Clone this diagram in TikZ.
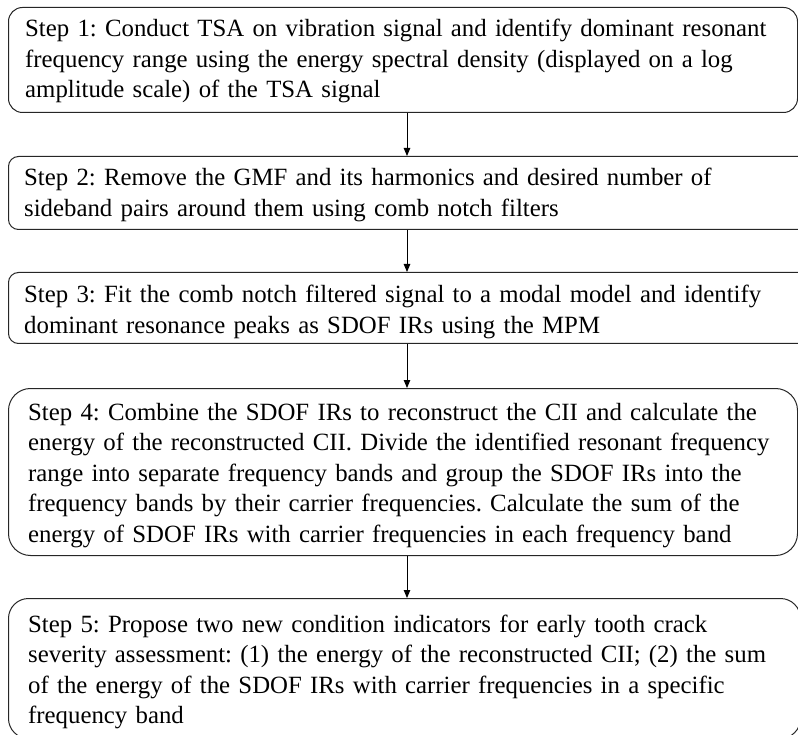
\documentclass[tikz,border=0pt]{standalone}
\usepackage{fontspec}
\setmainfont{Liberation Serif}
\usetikzlibrary{arrows.meta}
\frenchspacing
\begin{document}
\begin{tikzpicture}[x=1pt,y=-1pt,
  stepbox/.style={draw=black!85, line width=1pt, inner sep=0pt, anchor=north west},
  steptext/.style={anchor=base west, inner sep=0pt, align=left, text width=780pt, font=\fontsize{24.8}{30.5}\selectfont\frenchspacing},
  flow/.style={draw=black, line width=0.9pt, -{Triangle[width=6.5pt,length=8pt]}}]
\clip (0,0) rectangle (798,735);
\node[stepbox, rounded corners=14pt, minimum width=789pt, minimum height=105pt] (b1) at (8,7) {};
\node[stepbox, rounded corners=10pt, minimum width=800pt, minimum height=73pt] (b2) at (8,156) {};
\node[stepbox, rounded corners=10pt, minimum width=800pt, minimum height=71pt] (b3) at (8,272) {};
\node[stepbox, rounded corners=22pt, minimum width=789pt, minimum height=167pt] (b4) at (8,388) {};
\node[stepbox, rounded corners=20pt, minimum width=792pt, minimum height=140pt] (b5) at (8,598) {};
\node[steptext] (t1) at (25,37) {Step 1: Conduct TSA on vibration signal and identify dominant resonant\\frequency range using the energy spectral density (displayed on a log\\amplitude scale) of the TSA signal};
\node[steptext] (t2) at (24,186) {Step 2: Remove the GMF and its harmonics and desired number of\\sideband pairs around them using comb notch filters};
\node[steptext] (t3) at (24,303) {Step 3: Fit the comb notch filtered signal to a modal model and identify\\dominant resonance peaks as SDOF IRs using the MPM};
\node[steptext] (t4) at (28,420) {Step 4: Combine the SDOF IRs to reconstruct the CII and calculate the\\energy of the reconstructed CII. Divide the identified resonant frequency\\range into separate frequency bands and group the SDOF IRs into the\\frequency bands by their carrier frequencies. Calculate the sum of the\\energy of SDOF IRs with carrier frequencies in each frequency band};
\node[steptext] (t5) at (28,632) {Step 5: Propose two new condition indicators for early tooth crack\\severity assessment: (1) the energy of the reconstructed CII; (2) the sum\\of the energy of the SDOF IRs with carrier frequencies in a specific\\frequency band};
\coordinate (ax) at (407,0);
\draw[flow] (b1.south -| ax) -- (b2.north -| ax);
\draw[flow] (b2.south -| ax) -- (b3.north -| ax);
\draw[flow] (b3.south -| ax) -- (b4.north -| ax);
\draw[flow] (b4.south -| ax) -- (b5.north -| ax);
\end{tikzpicture}
\end{document}
